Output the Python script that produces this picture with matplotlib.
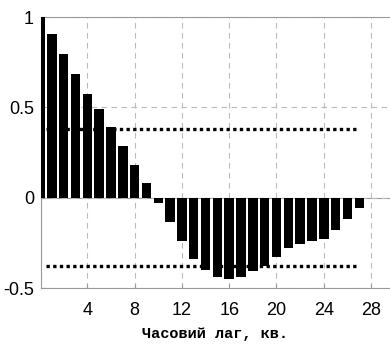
import numpy as np
import matplotlib
matplotlib.use('Agg')
import matplotlib.pyplot as plt

# autocorrelation by lag (quarters)
lags = np.arange(0, 28)
acf = [1.0, 0.907, 0.798, 0.687, 0.576, 0.489, 0.39, 0.289, 0.182, 0.079,
       -0.028, -0.135, -0.237, -0.34, -0.40, -0.438, -0.449, -0.438, -0.407,
       -0.376, -0.326, -0.278, -0.258, -0.237, -0.228, -0.178, -0.117, -0.058]
conf_bound = 0.38
bound_span = [0.5, 27.0]
xticks = [4, 8, 12, 16, 20, 24, 28]
yticks = [-0.5, 0, 0.5, 1]
ytick_labels = ['-0.5', '0', '0.5', '1']

tick_font = ['Liberation Sans Narrow', 'Liberation Sans', 'DejaVu Sans']

fig = plt.figure(figsize=(3.9, 3.5), dpi=100)
ax = fig.add_axes([0.105, 0.177, 0.895, 0.774])

ax.bar(lags, acf, width=0.8, color='black', zorder=3)
ax.plot(bound_span, [conf_bound, conf_bound], color='black', linestyle=(0, (1, 1)),
        linewidth=2.4, zorder=4)
ax.plot(bound_span, [-conf_bound, -conf_bound], color='black', linestyle=(0, (1, 1)),
        linewidth=2.4, zorder=4)
ax.axhline(0, color='#999999', linewidth=0.8, zorder=1)

ax.set_xlim(0.08, 29.6)
ax.set_ylim(-0.5, 1)
ax.set_xticks(xticks)
ax.set_yticks(yticks)
ax.set_yticklabels(ytick_labels)
ax.grid(True, color='#bbbbbb', linestyle=(0, (5, 4)), linewidth=0.8, zorder=0)

for side in ['left', 'bottom', 'top']:
    ax.spines[side].set_color('#999999')
    ax.spines[side].set_linewidth(0.8)
ax.spines['right'].set_visible(False)

ax.tick_params(axis='both', direction='in', length=3, color='#999999')
ax.tick_params(axis='x', pad=10)
ax.tick_params(axis='y', pad=5)
for lbl in ax.get_xticklabels() + ax.get_yticklabels():
    lbl.set_family(tick_font)
    lbl.set_fontsize(13)

ax.set_xlabel('Часовий лаг, кв.', family=['Liberation Mono', 'DejaVu Sans Mono'],
              fontsize=11, fontweight='bold', labelpad=6)

fig.savefig('out.png', dpi=100)
